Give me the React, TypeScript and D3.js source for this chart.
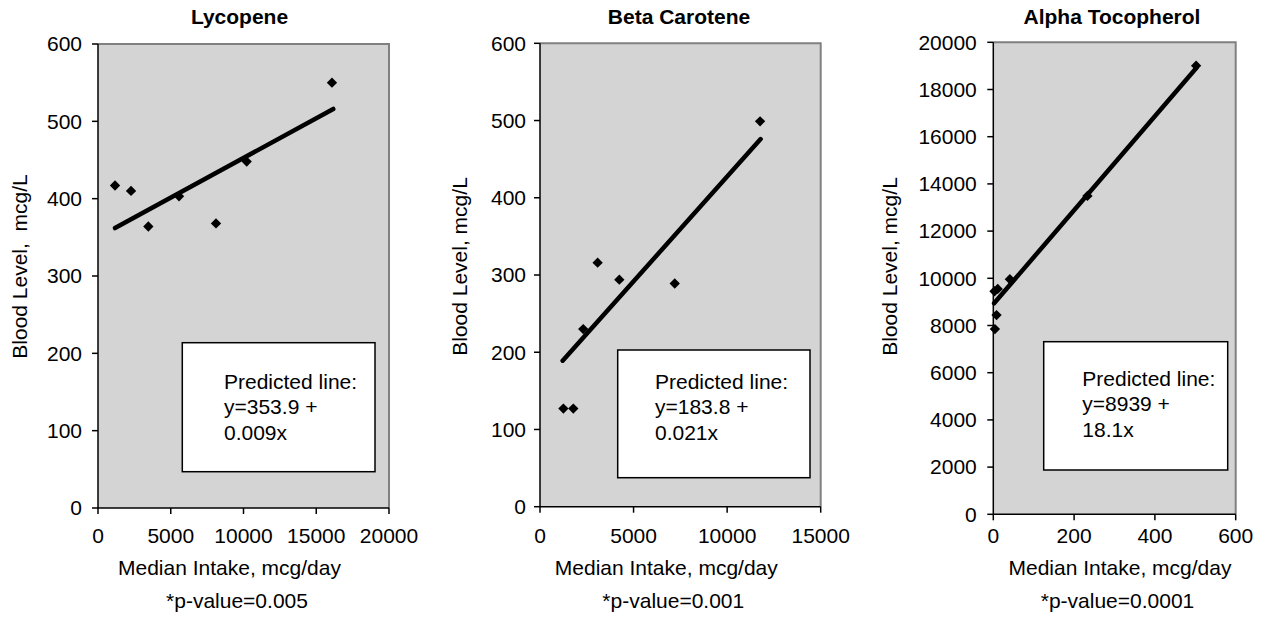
import React from "react";
import * as d3 from "d3";

// ---------- data ----------
const titles = ["Lycopene", "Beta Carotene", "Alpha Tocopherol"];
const yTitles = ["Blood Level,  mcg/L", "Blood Level, mcg/L", "Blood Level, mcg/L"];
const xTitle = "Median Intake, mcg/day";
const pValues = ["*p-value=0.005", "*p-value=0.001", "*p-value=0.0001"];
const boxLines = [
  ["Predicted line:", "y=353.9 +", "0.009x"],
  ["Predicted line:", "y=183.8 +", "0.021x"],
  ["Predicted line:", "y=8939 +", "18.1x"],
];

const lycopeneX = [1170, 2270, 3460, 5570, 8110, 10220, 16080];
const lycopeneY = [417, 410, 364, 403, 368, 448, 550];
const lycopeneTrendX = [1170, 16170];
const lycopeneTrendY = [362, 516];
const lycopeneXTicks = [0, 5000, 10000, 15000, 20000];
const lycopeneYTicks = [0, 100, 200, 300, 400, 500, 600];

const betaX = [1250, 1780, 2310, 3080, 4240, 7200, 11760];
const betaY = [127, 127, 230, 316, 294, 289, 499];
const betaTrendX = [1210, 11790];
const betaTrendY = [189, 476];
const betaXTicks = [0, 5000, 10000, 15000];
const betaYTicks = [0, 100, 200, 300, 400, 500, 600];

const alphaX = [3, 11, 8, 4, 41, 233, 502];
const alphaY = [9450, 9550, 8440, 7850, 9960, 13490, 19010];
const alphaTrendX = [2, 503];
const alphaTrendY = [8940, 18920];
const alphaXTicks = [0, 200, 400, 600];
const alphaYTicks = [0, 2000, 4000, 6000, 8000, 10000, 12000, 14000, 16000, 18000, 20000];

// ---------- layout ----------
const FONT = "'Liberation Sans', Arial, Helvetica, sans-serif";
const FS = 21;
const BG = "#d4d4d4";

const layouts = [
  { l: 98, t: 44, r: 389, b: 508, ylx: 27, tickGap: 16, titleX: 239.5, xtX: 229.5, pX: 237,
    box: [182.3, 342.7, 375, 471.7], textX: 224, textY: [389, 414.3, 440] },
  { l: 540, t: 43.3, r: 820.7, b: 506.7, ylx: 467, tickGap: 14, titleX: 679, xtX: 666.3, pX: 673.3,
    box: [617.7, 350, 810, 477.7], textX: 655, textY: [389.3, 414, 440] },
  { l: 993.3, t: 42.3, r: 1235.7, b: 514.3, ylx: 897, tickGap: 16.5, titleX: 1112, xtX: 1120, pX: 1117.5,
    box: [1043.7, 341.7, 1227.7, 470], textX: 1082.3, textY: [386, 411, 436.7] },
];

const panels = [
  { xs: lycopeneX, ys: lycopeneY, tx: lycopeneTrendX, ty: lycopeneTrendY, xt: lycopeneXTicks, yt: lycopeneYTicks },
  { xs: betaX, ys: betaY, tx: betaTrendX, ty: betaTrendY, xt: betaXTicks, yt: betaYTicks },
  { xs: alphaX, ys: alphaY, tx: alphaTrendX, ty: alphaTrendY, xt: alphaXTicks, yt: alphaYTicks },
];

function Panel({ i }: { i: number }) {
  const p = panels[i];
  const L = layouts[i];
  const x = d3.scaleLinear().domain([0, p.xt[p.xt.length - 1]]).range([L.l, L.r]);
  const y = d3.scaleLinear().domain([0, p.yt[p.yt.length - 1]]).range([L.b, L.t]);
  const line = d3
    .line<number>()
    .x((_, k) => x(p.tx[k]))
    .y((v) => y(v));
  const diamond = d3.symbol().type(d3.symbolDiamond2).size(68)();
  const [bx0, by0, bx1, by1] = L.box;
  return (
    <g>
      <rect x={L.l} y={L.t} width={L.r - L.l} height={L.b - L.t} fill={BG} />
      {/* top & right frame */}
      <path d={`M${L.l},${L.t}H${L.r}V${L.b}`} fill="none" stroke="#808080" strokeWidth={2} />
      {/* text box */}
      <rect x={bx0} y={by0} width={bx1 - bx0} height={by1 - by0} fill="#fff" stroke="#000" strokeWidth={1.5} />
      {boxLines[i].map((s, k) => (
        <text key={k} x={L.textX} y={L.textY[k]} fontSize={FS} fontFamily={FONT} fill="#000">
          {s}
        </text>
      ))}
      {/* trend line */}
      <path d={line(p.ty) || ""} fill="none" stroke="#000" strokeWidth={4.5} strokeLinecap="round" />
      {/* points */}
      {p.xs.map((xv, k) => (
        <path key={k} d={diamond || ""} transform={`translate(${x(xv)},${y(p.ys[k])})`} fill="#000" />
      ))}
      {/* axes */}
      <line x1={L.l} x2={L.l} y1={L.t} y2={L.b} stroke="#000" strokeWidth={1.5} />
      <line x1={L.l} x2={L.r} y1={L.b} y2={L.b} stroke="#000" strokeWidth={1.5} />
      {p.yt.map((v) => (
        <g key={"y" + v}>
          <line x1={L.l - 6} x2={L.l} y1={y(v)} y2={y(v)} stroke="#000" strokeWidth={1.5} />
          <text x={L.l - L.tickGap} y={y(v)} dy="0.35em" textAnchor="end" fontSize={FS} fontFamily={FONT}>
            {v}
          </text>
        </g>
      ))}
      {p.xt.map((v) => (
        <g key={"x" + v}>
          <line x1={x(v)} x2={x(v)} y1={L.b} y2={L.b + 6} stroke="#000" strokeWidth={1.5} />
          <text x={x(v)} y={543} textAnchor="middle" fontSize={FS} fontFamily={FONT}>
            {v}
          </text>
        </g>
      ))}
      <text x={L.titleX} y={24} textAnchor="middle" fontSize={FS} fontWeight="bold" fontFamily={FONT}>
        {titles[i]}
      </text>
      <text
        transform={`translate(${L.ylx},266.5) rotate(-90)`}
        textAnchor="middle"
        fontSize={FS}
        fontFamily={FONT}
        style={{ whiteSpace: "pre" }}
      >
        {yTitles[i]}
      </text>
      <text x={L.xtX} y={575} textAnchor="middle" fontSize={FS} fontFamily={FONT}>
        {xTitle}
      </text>
      <text x={L.pX} y={608} textAnchor="middle" fontSize={FS} fontFamily={FONT}>
        {pValues[i]}
      </text>
    </g>
  );
}

export default function App() {
  return (
    <svg
      width={1267}
      height={618}
      viewBox="0 0 1267 618"
      style={{ position: "absolute", left: 0, top: 0, background: "#fff" }}
    >
      <rect width={1267} height={618} fill="#fff" />
      {[0, 1, 2].map((i) => (
        <Panel key={i} i={i} />
      ))}
    </svg>
  );
}
